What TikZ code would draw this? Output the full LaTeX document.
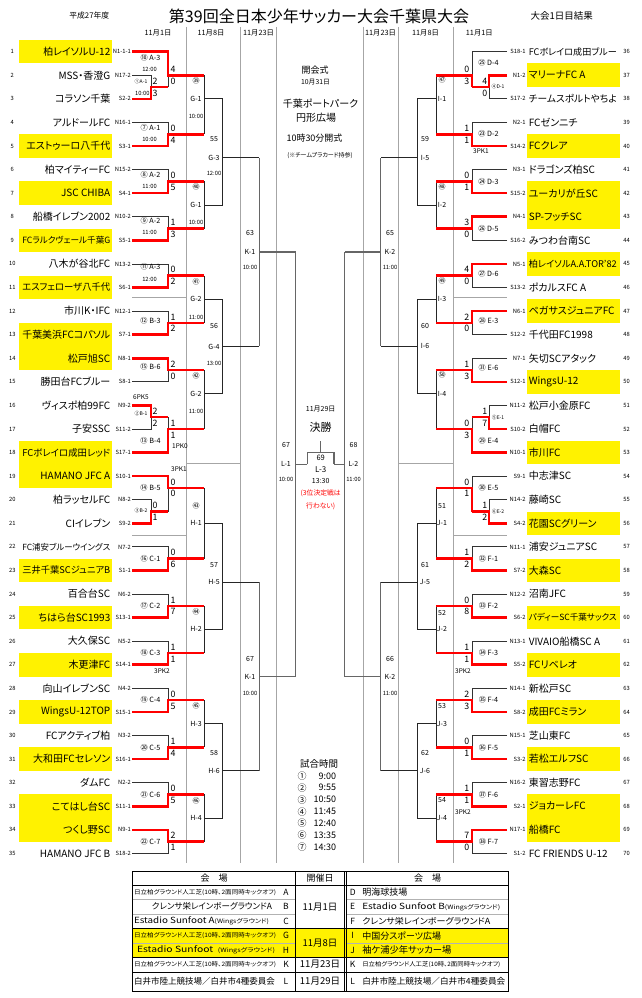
\documentclass[tikz,border=0pt]{standalone}
\usepackage{fontspec}
\usepackage{graphicx}
\setmainfont{Noto Sans CJK JP}[RawFeature=+palt]
\pgfdeclarelayer{back}
\pgfdeclarelayer{bg}
\pgfsetlayers{back,bg,main}
\newcommand\fsz[1]{\fontsize{#1}{#1}\selectfont}
\newsavebox\nmbox
\newcommand\fitto[2]{\sbox\nmbox{#2}\ifdim\wd\nmbox>#1\resizebox{#1}{!}{\usebox\nmbox}\else\usebox\nmbox\fi}
\newcommand\hw[2]{\resizebox{#1}{\height}{#2}}
\newcommand\Yh[1]{51.7+11.79*(#1)}
\newcommand\hitachi{日立柏グラウンド人工芝(10時、2面同時キックオフ)}
\tikzset{
  every node/.style={inner sep=0pt,outer sep=0pt},
  lose/.style={draw=black!80,line width=0.8pt},
  win/.style={draw=red,line width=2.6pt},
  rd/.style={draw=black!85,line width=0.8pt},
  rk/.style={draw=black!60,line width=1.3pt},
  sepl/.style={draw=black!35,line width=1.2pt},
  ybox/.style={fill=yellow,minimum height=23.6pt,inner sep=0pt},
  tname/.style={font={\fsz{10}}},
  tcode/.style={font={\fsz{5.8}}},
  tnum/.style={font={\fsz{5.8}}},
  score/.style={font={\fsz{8.8}}},
  mlab/.style={font={\fsz{7.2}}},
  plab/.style={font={\fsz{5}}},
  tlab/.style={font={\fsz{5.8}}},
  rlab/.style={font={\fsz{7}}},
  pk/.style={font={\fsz{6.5}}},
  hdr/.style={font={\fsz{7.3}}},
}
\newcommand\teamL[3]{%
  \pgfmathsetmacro\yy{\Yh{2*(#1-1)}}%
  \node[tname,anchor=east] (tL#1) at (110.3,\yy) {\fitto{88pt}{#2}};
  \node[tcode,anchor=east] (cL#1) at (130.8,\yy) {#3};
  \node[tnum] (nL#1) at (12.3,\yy) {#1};
  \coordinate (eL#1) at (132,\yy);}
\newcommand\teamLY[3]{%
  \pgfmathsetmacro\yy{\Yh{2*(#1-1)}}%
  \begin{pgfonlayer}{back}\node[ybox,minimum width=92.7pt] (bL#1) at (65.35,\yy) {};\end{pgfonlayer}
  \teamL{#1}{#2}{#3}}
\newcommand\teamR[3]{%
  \pgfmathsetmacro\yy{\Yh{2*(#1-36)}}%
  \node[tname,anchor=west] (tR#1) at (528.8,\yy) {\fitto{88pt}{#2}};
  \node[tcode,anchor=east] (cR#1) at (525.5,\yy) {#3};
  \node[tnum] (nR#1) at (626.7,\yy) {#1};
  \coordinate (eR#1) at (507,\yy);}
\newcommand\teamRY[3]{%
  \pgfmathsetmacro\yy{\Yh{2*(#1-36)}}%
  \begin{pgfonlayer}{back}\node[ybox,minimum width=93.3pt] (bR#1) at (573.35,\yy) {};\end{pgfonlayer}
  \teamR{#1}{#2}{#3}}
% played match: id, xc, xnext, winner start, loser start, h out
\newcommand\played[6]{%
  \pgfmathsetmacro\yy{\Yh{#6}}%
  \coordinate (#1c) at (#2,\yy);
  \coordinate (#1n) at (#3,\yy);
  \begin{pgfonlayer}{bg}\draw[lose] (#5) -| (#1c);\end{pgfonlayer}
  \draw[win] (#4) -| (#1c) -- (#1n);}
% pending match: id, xc, xnext, top in, bottom in, h out, style
\newcommand\pending[7]{%
  \pgfmathsetmacro\yy{\Yh{#6}}%
  \coordinate (#1c) at (#2,\yy);
  \coordinate (#1n) at (#3,\yy);
  \begin{pgfonlayer}{bg}\draw[#7] (#4) -- (#5);
  \draw[#7] (#1c) -- (#1n);\end{pgfonlayer}}
\newcommand\scores[6]{%
  \node[score,anchor=#6] (#1st) at (#2,{\Yh{#3-0.5}}) {#4};
  \node[score,anchor=#6] (#1sb) at (#2,{\Yh{#3+0.5}}) {#5};}
\newcommand\lbl[5]{\node[#2] (#1) at (#3,{\Yh{#4}}) {#5};}
\begin{document}
\begin{tikzpicture}[x=1pt,y=-1pt]
\useasboundingbox (0,0) rectangle (641,998);
\begin{pgfonlayer}{back}
\fill[white] (0,0) rectangle (641,998);
\foreach \x in {186.7,240.7,276.7,363.3,398.3,453.3}{\draw[sepl] (\x,27) -- (\x,863.3);}
\draw[sepl] (132,297.7) -- (186.7,297.7);
\draw[sepl] (132,535.7) -- (186.7,535.7);
\draw[sepl] (186.7,463.5) -- (240.7,463.5);
\draw[sepl] (453.3,297.7) -- (507,297.7);
\draw[sepl] (453.3,535.7) -- (507,535.7);
\draw[sepl] (398.3,463.5) -- (453.3,463.5);
\end{pgfonlayer}
% titles
\node[font={\fsz{16}}] (title) at (319,16) {第39回全日本少年サッカー大会千葉県大会};
\node[font={\fsz{7.8}}] (year) at (89.3,16) {平成27年度};
\node[font={\fsz{9.5}}] (res) at (561.7,16) {大会1日目結果};
\node[hdr] (h1) at (158,33.3) {11月1日};
\node[hdr] (h2) at (211,33.3) {11月8日};
\node[hdr] (h3) at (258.5,33.3) {11月23日};
\node[hdr] (h4) at (380.5,33.3) {11月23日};
\node[hdr] (h5) at (425.5,33.3) {11月8日};
\node[hdr] (h6) at (479.3,33.3) {11月1日};
% teams left
\teamLY{1}{柏レイソルU-12}{N1-1-1}
\teamL{2}{MSS・香澄G}{N17-2}
\teamL{3}{コラソン千葉}{S2-2}
\teamL{4}{アルドールFC}{N16-1}
\teamLY{5}{エストゥーロ八千代}{S3-1}
\teamL{6}{柏マイティーFC}{N15-2}
\teamLY{7}{JSC CHIBA}{S4-1}
\teamL{8}{船橋イレブン2002}{N10-2}
\teamLY{9}{FCラルクヴェール千葉G}{S5-1}
\teamL{10}{八木が谷北FC}{N13-2}
\teamLY{11}{エスフェローザ八千代}{S6-1}
\teamL{12}{市川K・IFC}{N12-1}
\teamLY{13}{千葉美浜FCコパソル}{S7-1}
\teamLY{14}{松戸旭SC}{N8-1}
\teamL{15}{勝田台FCブルー}{S8-1}
\teamL{16}{ヴィスポ柏99FC}{N9-2}
\teamL{17}{子安SSC}{S11-2}
\teamLY{18}{FCボレイロ成田レッド}{S17-1}
\teamLY{19}{HAMANO JFC A}{S10-1}
\teamL{20}{柏ラッセルFC}{N8-2}
\teamL{21}{CIイレブン}{S9-2}
\teamL{22}{FC浦安ブルーウイングス}{N7-2}
\teamLY{23}{三井千葉SCジュニアB}{S1-1}
\teamL{24}{百合台SC}{N6-2}
\teamLY{25}{ちはら台SC1993}{S13-1}
\teamL{26}{大久保SC}{N5-2}
\teamLY{27}{木更津FC}{S14-1}
\teamL{28}{向山イレブンSC}{N4-2}
\teamLY{29}{WingsU-12TOP}{S15-1}
\teamL{30}{FCアクティブ柏}{N3-2}
\teamLY{31}{大和田FCセレソン}{S16-1}
\teamL{32}{ダムFC}{N2-2}
\teamLY{33}{こてはし台SC}{S11-1}
\teamLY{34}{つくし野SC}{N9-1}
\teamL{35}{HAMANO JFC B}{S18-2}
% teams right
\teamR{36}{FCボレイロ成田ブルー}{S18-1}
\teamRY{37}{マリーナFC A}{N1-2}
\teamR{38}{チームスポルトやちよ}{S17-2}
\teamR{39}{FCゼンニチ}{N2-1}
\teamRY{40}{FCクレア}{S14-2}
\teamR{41}{ドラゴンズ柏SC}{N3-1}
\teamRY{42}{ユーカリが丘SC}{S15-2}
\teamRY{43}{SP-フッチSC}{N4-1}
\teamR{44}{みつわ台南SC}{S16-2}
\teamRY{45}{柏レイソルA.A.TOR'82}{N5-1}
\teamR{46}{ポカルスFC A}{S13-2}
\teamRY{47}{ペガサスジュニアFC}{N6-1}
\teamR{48}{千代田FC1998}{S12-2}
\teamR{49}{矢切SCアタック}{N7-1}
\teamRY{50}{WingsU-12}{S12-1}
\teamR{51}{松戸小金原FC}{N11-2}
\teamR{52}{白帽FC}{S10-2}
\teamRY{53}{市川FC}{N10-1}
\teamR{54}{中志津SC}{S9-1}
\teamR{55}{藤崎SC}{N14-2}
\teamRY{56}{花園SCグリーン}{S4-2}
\teamR{57}{浦安ジュニアSC}{N11-1}
\teamRY{58}{大森SC}{S7-2}
\teamR{59}{沼南JFC}{N12-2}
\teamRY{60}{パディーSC千葉サックス}{S6-2}
\teamR{61}{VIVAIO船橋SC A}{N13-1}
\teamRY{62}{FCリベレオ}{S5-2}
\teamR{63}{新松戸SC}{N14-1}
\teamRY{64}{成田FCミラン}{S8-2}
\teamR{65}{芝山東FC}{N15-1}
\teamRY{66}{若松エルフSC}{S3-2}
\teamR{67}{東習志野FC}{N16-2}
\teamRY{68}{ジョカーレFC}{S2-1}
\teamRY{69}{船橋FC}{N17-1}
\teamR{70}{FC FRIENDS U-12}{S1-2}
% left preliminary and first round
\played{pA}{151}{168}{eL3}{eL2}{3}
\played{pB}{151}{168}{eL16}{eL17}{31}
\played{pC}{151}{168}{eL21}{eL20}{39}
\played{m10}{168}{204}{eL1}{pAn}{2}
\played{m7}{168}{204}{eL5}{eL4}{7}
\played{m8}{168}{204}{eL7}{eL6}{11}
\played{m9}{168}{204}{eL9}{eL8}{15}
\played{m11}{168}{204}{eL11}{eL10}{19}
\played{m12}{168}{204}{eL13}{eL12}{23}
\played{m15}{168}{204}{eL14}{eL15}{27}
\played{m13}{168}{204}{eL18}{pBn}{32}
\played{m14}{168}{204}{eL19}{pCn}{37}
\played{m16}{168}{204}{eL23}{eL22}{43}
\played{m17}{168}{204}{eL25}{eL24}{47}
\played{m18}{168}{204}{eL27}{eL26}{51}
\played{m19}{168}{204}{eL29}{eL28}{55}
\played{m20}{168}{204}{eL31}{eL30}{59}
\played{m21}{168}{204}{eL33}{eL32}{63}
\played{m22}{168}{204}{eL34}{eL35}{67}
% left later rounds
\pending{g39}{204}{222.7}{m10n}{m7n}{4}{rd}
\pending{g40}{204}{222.7}{m8n}{m9n}{13}{rd}
\pending{g41}{204}{222.7}{m11n}{m12n}{21}{rd}
\pending{g42}{204}{222.7}{m15n}{m13n}{29}{rd}
\pending{g43}{204}{222.7}{m14n}{m16n}{40}{rd}
\pending{g44}{204}{222.7}{m17n}{m18n}{49}{rd}
\pending{g45}{204}{222.7}{m19n}{m20n}{57}{rd}
\pending{g46}{204}{222.7}{m21n}{m22n}{65}{rd}
\pending{t55}{222.7}{259.3}{g39n}{g40n}{9}{rd}
\pending{t56}{222.7}{259.3}{g41n}{g42n}{25}{rd}
\pending{t57}{222.7}{259.3}{g43n}{g44n}{45}{rd}
\pending{t58}{222.7}{259.3}{g45n}{g46n}{61}{rd}
\pending{k63}{259.3}{295.5}{t55n}{t56n}{17}{rk}
\pending{k67}{259.3}{295.5}{t57n}{t58n}{53}{rk}
\pending{L1}{295.5}{307.3}{k63n}{k67n}{35}{rk}
% right preliminary and first round
\played{pD}{489}{472}{eR37}{eR38}{3}
\played{pE}{489}{472}{eR52}{eR51}{31}
\played{pF}{489}{472}{eR56}{eR55}{39}
\played{r25}{472}{436}{pDn}{eR36}{2}
\played{r23}{472}{436}{eR40}{eR39}{7}
\played{r24}{472}{436}{eR42}{eR41}{11}
\played{r26}{472}{436}{eR43}{eR44}{15}
\played{r27}{472}{436}{eR45}{eR46}{19}
\played{r28}{472}{436}{eR47}{eR48}{23}
\played{r31}{472}{436}{eR50}{eR49}{27}
\played{r29}{472}{436}{eR53}{pEn}{32}
\played{r30}{472}{436}{pFn}{eR54}{37}
\played{r32}{472}{436}{eR58}{eR57}{43}
\played{r33}{472}{436}{eR60}{eR59}{47}
\played{r34}{472}{436}{eR62}{eR61}{51}
\played{r35}{472}{436}{eR64}{eR63}{55}
\played{r36}{472}{436}{eR66}{eR65}{59}
\played{r37}{472}{436}{eR68}{eR67}{63}
\played{r38}{472}{436}{eR69}{eR70}{67}
% right later rounds
\pending{g47}{436}{417.3}{r25n}{r23n}{4}{rd}
\pending{g48}{436}{417.3}{r24n}{r26n}{13}{rd}
\pending{g49}{436}{417.3}{r27n}{r28n}{21}{rd}
\pending{g50}{436}{417.3}{r31n}{r29n}{29}{rd}
\pending{g51}{436}{417.3}{r30n}{r32n}{40}{rd}
\pending{g52}{436}{417.3}{r33n}{r34n}{49}{rd}
\pending{g53}{436}{417.3}{r35n}{r36n}{57}{rd}
\pending{g54}{436}{417.3}{r37n}{r38n}{65}{rd}
\pending{t59}{417.3}{380.7}{g47n}{g48n}{9}{rd}
\pending{t60}{417.3}{380.7}{g49n}{g50n}{25}{rd}
\pending{t61}{417.3}{380.7}{g51n}{g52n}{45}{rd}
\pending{t62}{417.3}{380.7}{g53n}{g54n}{61}{rd}
\pending{k65}{380.7}{344.5}{t59n}{t60n}{17}{rk}
\pending{k66}{380.7}{344.5}{t61n}{t62n}{53}{rk}
\pending{L2}{344.5}{334}{k65n}{k66n}{35}{rk}
% final
\coordinate (fTR) at (334,{\Yh{34}});
\coordinate (fS) at (320.7,{\Yh{34}});
\coordinate (fT) at (320.7,440.7);
\draw[rk] (L1n) |- (fTR) -- (L2n);
\draw[rk] (fS) -- (fT);
% scores left
\scores{pA}{152.5}{3}{2}{3}{west}
\scores{pB}{152.5}{31}{2}{2}{west}
\scores{pC}{152.5}{39}{0}{1}{west}
\scores{m10}{170.5}{2}{4}{0}{west}
\scores{m7}{170.5}{7}{0}{4}{west}
\scores{m8}{170.5}{11}{0}{5}{west}
\scores{m9}{170.5}{15}{1}{3}{west}
\scores{m11}{170.5}{19}{0}{2}{west}
\scores{m12}{170.5}{23}{1}{2}{west}
\scores{m15}{170.5}{27}{2}{0}{west}
\scores{m13}{170.5}{32}{1}{1}{west}
\scores{m14}{170.5}{37}{0}{0}{west}
\scores{m16}{170.5}{43}{0}{6}{west}
\scores{m17}{170.5}{47}{1}{7}{west}
\scores{m18}{170.5}{51}{1}{1}{west}
\scores{m19}{170.5}{55}{0}{5}{west}
\scores{m20}{170.5}{59}{1}{4}{west}
\scores{m21}{170.5}{63}{0}{5}{west}
\scores{m22}{170.5}{67}{2}{1}{west}
% scores right
\scores{pD}{487.3}{3}{4}{0}{east}
\scores{pE}{487.3}{31}{1}{7}{east}
\scores{pF}{487.3}{39}{1}{2}{east}
\scores{r25}{469.3}{2}{0}{3}{east}
\scores{r23}{469.3}{7}{1}{1}{east}
\scores{r24}{469.3}{11}{0}{1}{east}
\scores{r26}{469.3}{15}{3}{0}{east}
\scores{r27}{469.3}{19}{4}{0}{east}
\scores{r28}{469.3}{23}{2}{0}{east}
\scores{r31}{469.3}{27}{1}{3}{east}
\scores{r29}{469.3}{32}{0}{3}{east}
\scores{r30}{469.3}{37}{0}{1}{east}
\scores{r32}{469.3}{43}{1}{2}{east}
\scores{r33}{469.3}{47}{0}{8}{east}
\scores{r34}{469.3}{51}{1}{1}{east}
\scores{r35}{469.3}{55}{2}{3}{east}
\scores{r36}{469.3}{59}{0}{1}{east}
\scores{r37}{469.3}{63}{1}{1}{east}
\scores{r38}{469.3}{67}{7}{0}{east}
% match labels left
\lbl{lm10}{mlab}{150.5}{0.5}{⑩ A-3}
\lbl{lm10t}{tlab}{149.5}{1.5}{12:00}
\lbl{lpA}{plab}{141}{2.5}{①A-1}
\lbl{lpAt}{tlab}{142.3}{3.5}{10:00}
\lbl{lm7}{mlab}{150.5}{6.45}{⑦ A-1}
\lbl{lm7t}{tlab}{149.5}{7.45}{10:00}
\lbl{lm8}{mlab}{150.5}{10.4}{⑧ A-2}
\lbl{lm8t}{tlab}{149.5}{11.4}{11:00}
\lbl{lm9}{mlab}{150.5}{14.35}{⑨ A-2}
\lbl{lm9t}{tlab}{149.5}{15.35}{11:00}
\lbl{lm11}{mlab}{150.5}{18.25}{⑪ A-3}
\lbl{lm11t}{tlab}{149.5}{19.3}{12:00}
\lbl{lm12}{mlab}{150.5}{22.8}{⑫ B-3}
\lbl{lm15}{mlab}{150.5}{26.7}{⑮ B-6}
\lbl{lpBk}{pk}{141}{29.3}{6PK5}
\lbl{lpB}{plab}{141}{30.7}{②B-1}
\lbl{lm13}{mlab}{150.5}{33}{⑬ B-4}
\lbl{lm13k}{pk}{180}{33.45}{1PK0}
\lbl{lm14k}{pk}{179}{35.4}{3PK1}
\lbl{lm14}{mlab}{150.5}{37}{⑭ B-5}
\lbl{lpC}{plab}{141}{38.9}{③B-2}
\lbl{lm16}{mlab}{150.5}{43}{⑯ C-1}
\lbl{lm17}{mlab}{150.5}{47}{⑰ C-2}
\lbl{lm18}{mlab}{150.5}{51}{⑱ C-3}
\lbl{lm18k}{pk}{162}{52.55}{3PK2}
\lbl{lm19}{mlab}{150.5}{55}{⑲ C-4}
\lbl{lm20}{mlab}{150.5}{59}{⑳ C-5}
\lbl{lm21}{mlab}{150.5}{63}{㉑ C-6}
\lbl{lm22}{mlab}{150.5}{67}{㉒ C-7}
% match labels right
\lbl{lr25}{mlab}{488.5}{0.9}{㉕ D-4}
\lbl{lpD}{plab}{498}{3}{④D-1}
\lbl{lr23}{mlab}{488.5}{7}{㉓ D-2}
\lbl{lr23k}{pk}{481}{8.43}{3PK1}
\lbl{lr24}{mlab}{488.5}{11}{㉔ D-3}
\lbl{lr26}{mlab}{488.5}{15}{㉖ D-5}
\lbl{lr27}{mlab}{488.5}{18.85}{㉗ D-6}
\lbl{lr28}{mlab}{488.5}{22.8}{㉘ E-3}
\lbl{lr31}{mlab}{488.5}{26.8}{㉛ E-6}
\lbl{lpE}{plab}{498}{31}{⑤E-1}
\lbl{lr29}{mlab}{488.5}{33}{㉙ E-4}
\lbl{lr30}{mlab}{488.5}{37}{㉚ E-5}
\lbl{lpF}{plab}{498}{39}{⑥E-2}
\lbl{lr32}{mlab}{488.5}{43}{㉜ F-1}
\lbl{lr33}{mlab}{488.5}{47}{㉝ F-2}
\lbl{lr34}{mlab}{488.5}{51}{㉞ F-3}
\lbl{lr34k}{pk}{463}{52.55}{3PK2}
\lbl{lr35}{mlab}{488.5}{55}{㉟ F-4}
\lbl{lr36}{mlab}{488.5}{59}{㊱ F-5}
\lbl{lr37}{mlab}{488.5}{63}{㊲ F-6}
\lbl{lr37k}{pk}{463}{64.5}{3PK2}
\lbl{lr38}{mlab}{488.5}{67}{㊳ F-7}
% round 2 labels left
\lbl{a39}{rlab}{196}{2.5}{㊴}\lbl{b39}{rlab}{196}{4}{G-1}\lbl{c39}{tlab}{196}{5.5}{10:00}
\lbl{a40}{rlab}{196}{11.5}{㊵}\lbl{b40}{rlab}{196}{13}{G-1}\lbl{c40}{tlab}{196}{14.5}{10:00}
\lbl{a41}{rlab}{196}{19.5}{㊶}\lbl{b41}{rlab}{196}{21}{G-2}\lbl{c41}{tlab}{196}{22.5}{11:00}
\lbl{a42}{rlab}{196}{27.5}{㊷}\lbl{b42}{rlab}{196}{29}{G-2}\lbl{c42}{tlab}{196}{30.5}{11:00}
\lbl{a43}{rlab}{196}{38.5}{㊸}\lbl{b43}{rlab}{196}{40}{H-1}
\lbl{a44}{rlab}{196}{47.5}{㊹}\lbl{b44}{rlab}{196}{49}{H-2}
\lbl{a45}{rlab}{196}{55.5}{㊺}\lbl{b45}{rlab}{196}{57}{H-3}
\lbl{a46}{rlab}{196}{63.5}{㊻}\lbl{b46}{rlab}{196}{65}{H-4}
% round 2 labels right
\lbl{a47}{rlab}{442}{2.4}{㊼}\lbl{b47}{rlab}{442}{4}{I-1}
\lbl{a48}{rlab}{442}{11.5}{㊽}\lbl{b48}{rlab}{442}{13}{I-2}
\lbl{a49}{rlab}{442}{19.4}{㊾}\lbl{b49}{rlab}{442}{21}{I-3}
\lbl{a50}{rlab}{442}{27.4}{㊿}\lbl{b50}{rlab}{442}{29}{I-4}
\lbl{a51}{rlab}{442}{38.5}{51}\lbl{b51}{rlab}{442}{40}{J-1}
\lbl{a52}{rlab}{442}{47.6}{52}\lbl{b52}{rlab}{442}{49}{J-2}
\lbl{a53}{rlab}{442}{55.5}{53}\lbl{b53}{rlab}{442}{57}{J-3}
\lbl{a54}{rlab}{442}{63.5}{54}\lbl{b54}{rlab}{442}{65}{J-4}
% round 3 labels
\lbl{a55}{rlab}{214}{7.4}{55}\lbl{b55}{rlab}{214}{9}{G-3}\lbl{c55}{tlab}{214}{10.3}{12:00}
\lbl{a56}{rlab}{214}{23.3}{56}\lbl{b56}{rlab}{214}{25}{G-4}\lbl{c56}{tlab}{214}{26.4}{13:00}
\lbl{a57}{rlab}{214}{43.5}{57}\lbl{b57}{rlab}{214}{45}{H-5}
\lbl{a58}{rlab}{214}{59.5}{58}\lbl{b58}{rlab}{214}{61}{H-6}
\lbl{a59}{rlab}{425}{7.4}{59}\lbl{b59}{rlab}{425}{9}{I-5}
\lbl{a60}{rlab}{425}{23.3}{60}\lbl{b60}{rlab}{425}{25}{I-6}
\lbl{a61}{rlab}{425}{43.5}{61}\lbl{b61}{rlab}{425}{45}{J-5}
\lbl{a62}{rlab}{425}{59.5}{62}\lbl{b62}{rlab}{425}{61}{J-6}
% K and L labels
\lbl{a63}{rlab}{250}{15.4}{63}\lbl{b63}{rlab}{250}{17}{K-1}\lbl{c63}{tlab}{250}{18.3}{10:00}
\lbl{a67}{rlab}{250}{51.5}{67}\lbl{b67}{rlab}{250}{53}{K-1}\lbl{c67}{tlab}{250}{54.4}{10:00}
\lbl{a65}{rlab}{390}{15.4}{65}\lbl{b65}{rlab}{390}{17}{K-2}\lbl{c65}{tlab}{390}{18.3}{11:00}
\lbl{a66}{rlab}{390}{51.5}{66}\lbl{b66}{rlab}{390}{53}{K-2}\lbl{c66}{tlab}{390}{54.4}{11:00}
\lbl{aL1}{rlab}{286}{33.4}{67}\lbl{bL1}{rlab}{286}{35}{L-1}\lbl{cL1}{tlab}{286}{36.3}{10:00}
\lbl{aL2}{rlab}{353.5}{33.4}{68}\lbl{bL2}{rlab}{353.5}{35}{L-2}\lbl{cL2}{tlab}{353.5}{36.3}{11:00}
% centre texts
\node[font={\fsz{9}}] (oc1) at (315,70) {開会式};
\node[font={\fsz{6.8}}] (oc2) at (315.5,81.7) {10月31日};
\node[font={\fsz{10}}] (oc3) at (320.5,104) {千葉ポートパーク};
\node[font={\fsz{10}}] (oc4) at (316,117.3) {円形広場};
\node[font={\fsz{9}}] (oc5) at (314.5,138.3) {10時30分開式};
\node[font={\fsz{6}}] (oc6) at (320,156) {(※チームプラカード持参)};
\node[font={\fsz{7}}] (fd) at (320.7,409.3) {11月29日};
\node[font={\fsz{11}}] (fk) at (320.7,427.7) {決勝};
\node[font={\fsz{7.5}}] (f69) at (320.7,458.3) {69};
\node[font={\fsz{8}}] (fL3) at (320.7,469.3) {L-3};
\node[font={\fsz{7}}] (ftm) at (320.7,480.7) {13:30};
\node[font={\fsz{6.8}},text=red] (fn1) at (320.7,493.3) {(3位決定戦は};
\node[font={\fsz{6.8}},text=red] (fn2) at (320.7,506) {行わない)};
% match times
\node[font={\fsz{9.5}}] (tt) at (319,764) {試合時間};
\foreach \i/\c/\t/\y in {1/①/9:00/776,2/②/9:55/787.7,3/③/10:50/799.7,4/④/11:45/811.7,5/⑤/12:40/823.3,6/⑥/13:35/835.3,7/⑦/14:30/847.3}{
  \node[font={\fsz{9}}] (tc\i) at (302,\y) {\c};
  \node[font={\fsz{9}},anchor=east] (tv\i) at (336,\y) {\t};
}
% venue table
\begin{pgfonlayer}{back}
\fill[yellow] (132.7,928.5) rectangle (508.3,957);
\end{pgfonlayer}
\draw[line width=0.8pt] (132.7,871.7) rectangle (508.3,991);
\foreach \y in {885.3,928.5,957,972}{\draw[line width=0.6pt] (132.7,\y) -- (508.3,\y);}
\foreach \y in {899.5,914,943}{\draw[black!30,line width=0.4pt] (132.7,\y) -- (295.7,\y) (346.7,\y) -- (508.3,\y);}
\foreach \x in {295.7,344.3,346.7}{\draw[line width=0.6pt] (\x,871.7) -- (\x,991);}
\node[font={\fsz{9}}] (thl) at (214.2,878.5) {会　場};
\node[font={\fsz{9}}] (thd) at (320,878.5) {開催日};
\node[font={\fsz{9}}] (thr) at (427.5,878.5) {会　場};
\foreach \n/\l/\y in {A/A/892.4,B/B/906.75,C/C/921.25,G/G/935.75,H/H/950,K/K/964.5,L/L/981.5}{
  \node[font={\fsz{8.5}}] (tlt\n) at (286,\y) {\l};}
\foreach \n/\l/\y in {D/D/892.4,E/E/906.75,F/F/921.25,I/I/935.75,J/J/950,K/K/964.5,L/L/981.5}{
  \node[font={\fsz{8.5}}] (trt\n) at (352.7,\y) {\l};}
\node[anchor=west] (vA) at (134,892.4) {\fsz{6}\hw{142pt}{\hitachi}};
\node[anchor=east] (vB) at (272,906.75) {\fsz{8.5}\hw{120pt}{クレンサ栄レインボーグラウンドA}};
\node[anchor=west] (vC) at (134,921.25) {\hw{135pt}{\fsz{8.5}Estadio Sunfoot A\fsz{6}(Wingsグラウンド)}};
\node[anchor=west] (vG) at (134,935.75) {\fsz{6}\hw{142pt}{\hitachi}};
\node[anchor=west] (vH) at (137,950) {\hw{138pt}{\fsz{8.5}Estadio Sunfoot\ \ \fsz{6}(Wingsグラウンド)}};
\node[anchor=west] (vK) at (134,964.5) {\fsz{6}\hw{142pt}{\hitachi}};
\node[anchor=west] (vL) at (134,981.5) {\fsz{8.5}\hw{141pt}{白井市陸上競技場／白井市4種委員会}};
\node[anchor=west] (vD) at (362.3,892.4) {\fsz{9}明海球技場};
\node[anchor=west] (vE) at (362.3,906.75) {\hw{138pt}{\fsz{8.5}Estadio Sunfoot B\fsz{6}(Wingsグラウンド)}};
\node[anchor=west] (vF) at (362.3,921.25) {\fsz{8.5}\hw{128pt}{クレンサ栄レインボーグラウンドA}};
\node[anchor=west] (vI) at (362.3,935.75) {\fsz{9}中国分スポーツ広場};
\node[anchor=west] (vJ) at (362.3,950) {\fsz{9.3}袖ケ浦少年サッカー場};
\node[anchor=west] (vK2) at (362.3,964.5) {\fsz{6}\hw{138pt}{\hitachi}};
\node[anchor=west] (vL2) at (362.3,981.5) {\fsz{8.5}\hw{143pt}{白井市陸上競技場／白井市4種委員会}};
\node[font={\fsz{9.5}}] (d1) at (320,906.75) {11月1日};
\node[font={\fsz{9.5}}] (d2) at (320,942.75) {11月8日};
\node[font={\fsz{9.5}}] (d3) at (320,964.5) {11月23日};
\node[font={\fsz{9.5}}] (d4) at (320,981.5) {11月29日};
\end{tikzpicture}
\end{document}
